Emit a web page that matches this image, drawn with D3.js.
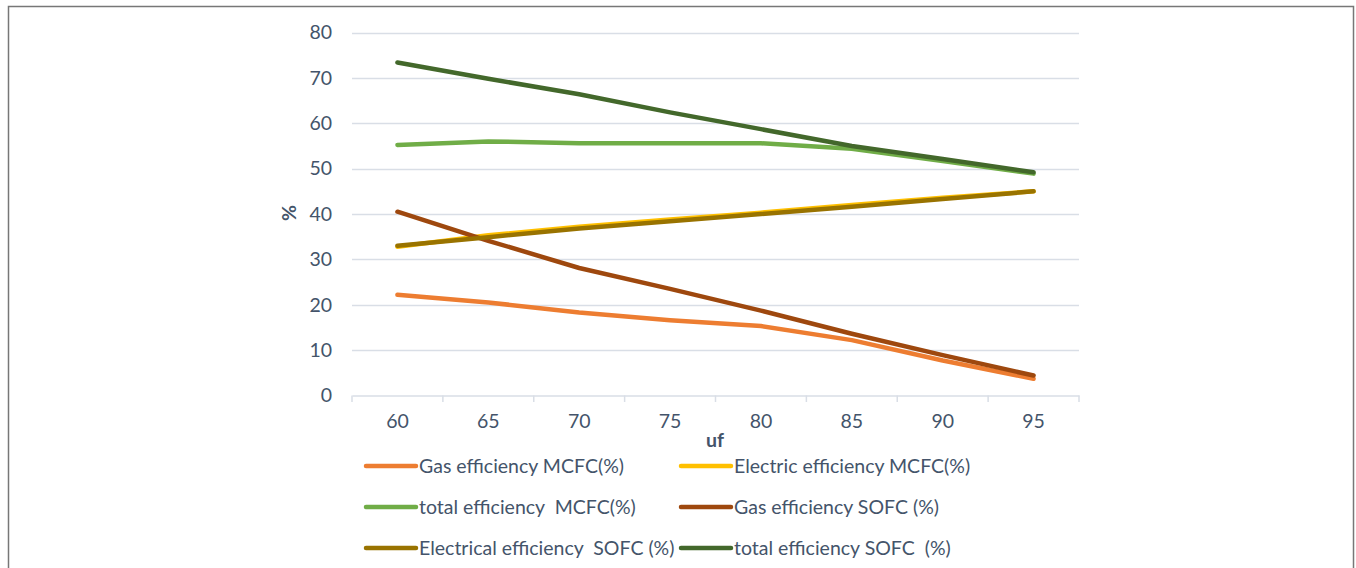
<!DOCTYPE html>
<html><head><meta charset="utf-8">
<script src="https://cdn.jsdelivr.net/npm/d3@7"></script>
<style>body{margin:0;background:#fff}svg{display:block}</style>
</head><body>
<svg id="c" width="1356" height="568"></svg>
<script>
const categories = [60, 65, 70, 75, 80, 85, 90, 95];
const gasMCFC   = [22.2, 20.5, 18.3, 16.6, 15.3, 12.2, 7.7, 3.7];
const elecMCFC  = [32.8, 35.3, 37.2, 38.8, 40.3, 42.0, 43.6, 45.0];
const totalMCFC = [55.2, 56.0, 55.6, 55.6, 55.6, 54.4, 51.7, 48.9];
const gasSOFC   = [40.5, 34.1, 28.1, 23.5, 18.7, 13.6, 8.9, 4.4];
const elecSOFC  = [33.0, 34.9, 36.8, 38.4, 40.0, 41.6, 43.3, 45.0];
const totalSOFC = [73.4, 69.8, 66.4, 62.4, 58.7, 55.0, 52.1, 49.2];
const yTicks = [0, 10, 20, 30, 40, 50, 60, 70, 80];
const seriesNames = ["Gas efficiency MCFC(%)", "Electric efficiency MCFC(%)", "total efficiency  MCFC(%)",
  "Gas efficiency SOFC (%)", "Electrical efficiency  SOFC (%)", "total efficiency SOFC  (%)"];
const seriesValues = [gasMCFC, elecMCFC, totalMCFC, gasSOFC, elecSOFC, totalSOFC];
const colors = ["#ED7D31", "#FFC000", "#70AD47", "#9E480E", "#997300", "#43682B"];

const svg = d3.select("#c");
const font = "Lato, 'Open Sans', sans-serif";
const textColor = "#44546A";
const fs = 19.5;

// frame
svg.append("path").attr("d", "M8.5,568 V6.5 H1353.5 V568").attr("fill", "none").attr("stroke", "#777").attr("stroke-width", 1.5);

const x = d3.scaleBand().domain(categories).range([352, 1079]);
const y = d3.scaleLinear().domain([0, 80]).range([395.5, 32.5]);

// gridlines
svg.append("g").selectAll("line").data(yTicks.filter(d => d > 0)).join("line")
  .attr("x1", 352).attr("x2", 1079)
  .attr("y1", d => Math.round(y(d)) + 0.5).attr("y2", d => Math.round(y(d)) + 0.5)
  .attr("stroke", "#D9DEE6").attr("stroke-width", 1.3);

// y axis labels
const ya = svg.append("g").attr("transform", "translate(352,0)")
  .call(d3.axisLeft(y).tickValues(yTicks).tickSize(0).tickPadding(20));
ya.select(".domain").remove();
ya.selectAll("text").attr("font-family", font).attr("font-size", fs).attr("fill", textColor);

// x axis
const xa = svg.append("g").attr("transform", "translate(0,395.5)")
  .call(d3.axisBottom(x).tickSize(0).tickPadding(19));
xa.select(".domain").attr("stroke", "#D9DEE6").attr("stroke-width", 1.5);
xa.selectAll("text").attr("font-family", font).attr("font-size", fs).attr("fill", textColor);
// category boundary ticks
const bounds = categories.map(c => x(c)).concat([x(categories[categories.length - 1]) + x.bandwidth()]);
svg.append("g").selectAll("line").data(bounds).join("line")
  .attr("x1", d => d).attr("x2", d => d).attr("y1", 395.5).attr("y2", 402)
  .attr("stroke", "#D9DEE6").attr("stroke-width", 1.5);

// axis titles
svg.append("text").attr("x", 715).attr("y", 447).attr("text-anchor", "middle")
  .attr("font-family", font).attr("font-size", fs).attr("font-weight", "bold").attr("fill", textColor).text("uf");
svg.append("text").attr("transform", "translate(296,213) rotate(-90)").attr("text-anchor", "middle")
  .attr("font-family", font).attr("font-size", fs).attr("font-weight", "bold").attr("fill", textColor).text("%");

// lines
const line = d3.line().x((d, i) => x(categories[i]) + x.bandwidth() / 2).y(d => y(d));
svg.append("g").selectAll("path").data(seriesValues).join("path")
  .attr("d", d => line(d)).attr("fill", "none")
  .attr("stroke", (d, i) => colors[i]).attr("stroke-width", 4.5)
  .attr("stroke-linecap", "round").attr("stroke-linejoin", "round");

// legend
const legX = [366, 681], legY = [466, 507, 548];
const lg = svg.append("g").selectAll("g").data(seriesNames).join("g")
  .attr("transform", (d, i) => `translate(${legX[i % 2]},${legY[Math.floor(i / 2)]})`);
lg.append("line").attr("x1", 0).attr("x2", 50).attr("y1", 0).attr("y2", 0)
  .attr("stroke", (d, i) => colors[i]).attr("stroke-width", 4.5).attr("stroke-linecap", "round");
lg.append("text").attr("x", 53).attr("y", 0).attr("dy", "0.35em")
  .attr("font-family", font).attr("font-size", fs).attr("fill", textColor)
  .attr("xml:space", "preserve").style("white-space", "pre").text(d => d);
</script>
</body></html>
